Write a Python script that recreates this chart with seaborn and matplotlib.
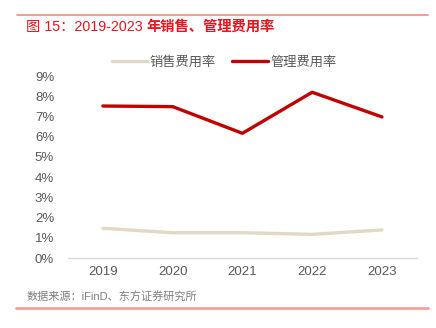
import matplotlib
matplotlib.use("Agg")
import matplotlib.pyplot as plt
import seaborn as sns
import pandas as pd
from matplotlib.lines import Line2D
from matplotlib.ticker import PercentFormatter

years = ["2019", "2020", "2021", "2022", "2023"]
selling_rate = [1.47, 1.25, 1.25, 1.17, 1.39]
admin_rate = [7.52, 7.49, 6.17, 8.20, 6.98]
series_names = ["销售费用率", "管理费用率"]
y_ticks = [0, 1, 2, 3, 4, 5, 6, 7, 8, 9]

sns.set_style("white")
plt.rcParams["font.family"] = ["Liberation Sans", "Noto Sans CJK SC", "DejaVu Sans"]

df = pd.DataFrame({
    "year": years * 2,
    "value": selling_rate + admin_rate,
    "series": [series_names[0]] * len(years) + [series_names[1]] * len(years),
})

fig = plt.figure(figsize=(4.36, 3.28), dpi=100)
ax = fig.add_axes([0.156, 0.2134, 0.8, 0.5546])

palette = {series_names[0]: "#E2D8C3", series_names[1]: "#C00000"}
sns.lineplot(data=df, x="year", y="value", hue="series", palette=palette,
             linewidth=2.4, ax=ax, legend=False, sort=False)

ax.set_xlim(-0.5, len(years) - 0.5)
ax.set_ylim(0, 9)
ax.set_yticks(y_ticks)
ax.yaxis.set_major_formatter(PercentFormatter(decimals=0))
ax.set_xlabel("")
ax.set_ylabel("")
ax.tick_params(axis="both", length=0, labelsize=9.5, colors="#595959")
ax.tick_params(axis="y", pad=10)
ax.tick_params(axis="x", pad=6)
for side in ["top", "right", "left"]:
    ax.spines[side].set_visible(False)
ax.spines["bottom"].set_color("#D9D9D9")
ax.spines["bottom"].set_linewidth(1.0)

handles = [Line2D([], [], color=palette[n], linewidth=2.4) for n in series_names]
fig.legend(handles, series_names, loc="center", bbox_to_anchor=(0.514, 0.81),
           ncol=2, frameon=False, fontsize=9.5, labelcolor="#595959",
           handlelength=2.7, columnspacing=1.2, handletextpad=0.2)

# header and footer rules
fig.add_artist(Line2D([0.039, 0.982], [0.954, 0.954], color="#F08A84", linewidth=1.2))
fig.add_artist(Line2D([0.036, 0.982], [0.060, 0.060], color="#F4A09A", linewidth=2.0))

title_color = "#E8141E"
title_size = 10.3
t1 = fig.text(0.06, 0.918, "图 15：2019-2023 ", color=title_color,
              fontsize=title_size, va="center", ha="left")
fig.canvas.draw()
bb = t1.get_window_extent()
fig.text(bb.x1 / fig.bbox.width, 0.918, "年销售、管理费用率", color=title_color,
         fontsize=title_size, fontweight="bold", va="center", ha="left")

fig.text(0.06, 0.093, "数据来源：iFinD、东方证券研究所", color="#7F7F7F",
         fontsize=8, va="center", ha="left")

fig.savefig("out.png", dpi=100)
